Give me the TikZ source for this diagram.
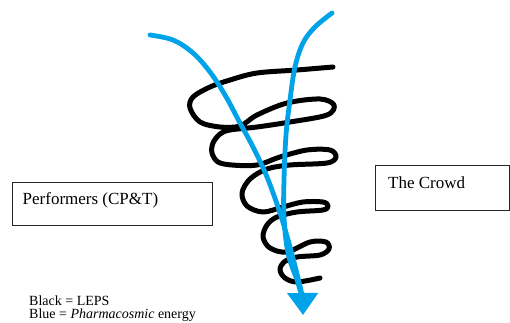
\documentclass[tikz,border=0pt]{standalone}
\usepackage{fontspec}
\setmainfont{Liberation Serif}
\usetikzlibrary{arrows.meta}
\definecolor{paintblue}{HTML}{00A2E8}

\begin{document}
\begin{tikzpicture}
[x=1pt,y=-1pt,
 box/.style={draw=black!85,line width=0.9pt,inner sep=0pt},
 lbl/.style={anchor=base west,inner sep=0pt,font=\fontsize{17}{20}\selectfont},
 key/.style={anchor=base west,inner sep=0pt,font=\fontsize{14}{14}\selectfont},
 coil/.style={line width=5pt,line cap=round,line join=round},
 flow/.style={paintblue,line width=4.8pt,line cap=round,line join=round}]
\useasboundingbox (0,0) rectangle (510,323);
\node[box,minimum width=200pt,minimum height=43pt] (perf) at (112,203.5) {};
\node[box,minimum width=134pt,minimum height=45pt] (crowd) at (442,187.5) {};
\node[lbl] (perftxt) at (22.5,204) {Performers (CP\&T)};
\node[lbl] (crowdtxt) at (388,188) {The Crowd};
\node[key] (black) at (29,305) {Black = LEPS};
\node[key] (blue) at (29,318.5) {Blue = \textit{Pharmacosmic} energy};
% the coil
\draw[coil] plot[smooth,tension=0.55] coordinates {
  (333,67) (297,70) (257,73) (230,80) (210,87) (193,97) (190,108)
  (200,122) (220,127) (240,126) (257,115) (287,103) (320,99)
  (334,105) (327,115) (290,122) (257,127) (230,130) (220,134)
  (213,143) (212,153) (218,162) (232,165) (257,165) (280,157)
  (307,150) (330,150) (336,157) (327,163) (290,165) (267,169)
  (250,179) (242,193) (247,206) (263,212) (283,207) (303,202)
  (323,202) (328,206) (323,210) (297,212) (277,217) (267,225)
  (263,237) (270,248) (287,252) (310,242) (326,242) (329,249)
  (320,255) (297,257) (284,262) (280,270) (285,278) (297,282)
  (320,278)};
% energy
\draw[flow] plot[smooth,tension=0.6] coordinates {
  (332,13) (315,27) (303,43) (295,67) (290,100) (286,135) (284,180)
  (284,217) (288,253) (297,280) (301,293)};
\draw[flow,-{Triangle[length=22pt,width=30pt]}] plot[smooth,tension=0.6] coordinates {
  (150,35) (173,40) (193,53) (210,72) (225,95) (240,123) (253,147)
  (267,177) (280,213) (290,247) (298,278) (302,296) (303,315)};
\end{tikzpicture}
\end{document}
